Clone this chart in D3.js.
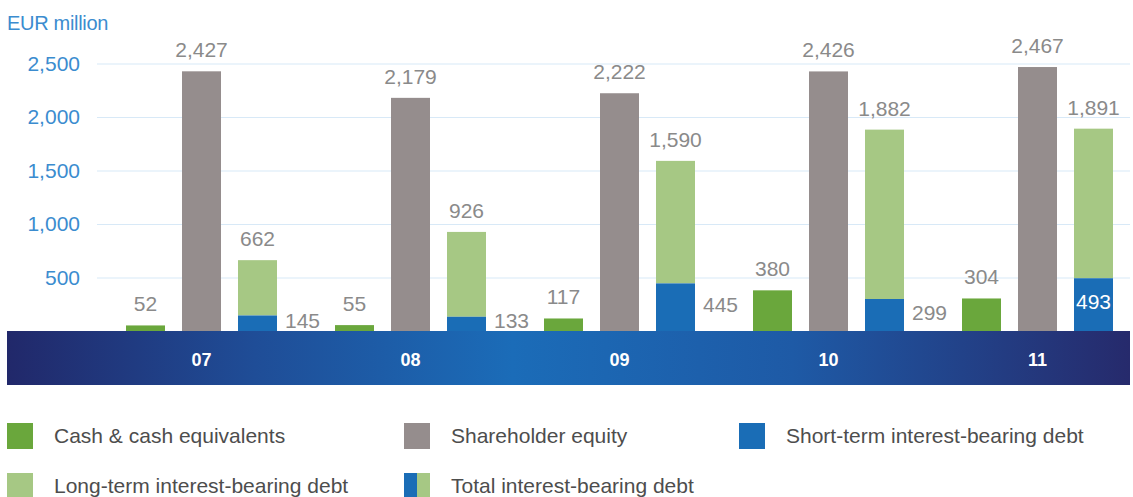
<!DOCTYPE html>
<html>
<head>
<meta charset="utf-8">
<script src="https://cdn.jsdelivr.net/npm/d3@7"></script>
<style>
  html, body { margin: 0; padding: 0; background: #fff; }
  svg { display: block; font-family: "Liberation Sans", Arial, sans-serif; }
</style>
</head>
<body>
<svg id="chart" width="1133" height="497"></svg>
<script>
// data, EUR million
const years = ["07", "08", "09", "10", "11"];
const cash = [52, 55, 117, 380, 304];
const equity = [2427, 2179, 2222, 2426, 2467];
const shortDebt = [145, 133, 445, 299, 493];
const longDebt = [517, 793, 1145, 1583, 1398];
const totalDebt = [662, 926, 1590, 1882, 1891];
const yTicks = [500, 1000, 1500, 2000, 2500];

const colors = {
  cash: "#6aa73c",
  equity: "#958d8d",
  short: "#1a6db6",
  long: "#a6c884",
  tick: "#3b8ccf",
  value: "#8a8a8a",
  legend: "#4d4d4d"
};

const svg = d3.select("#chart");

const plotLeft = 97, plotRight = 1130;
const baseY = 331, bandBottom = 385;

const x = d3.scaleBand().domain(years).range([97, 97 + 5 * 209]).padding(0);
const xInner = d3.scaleBand()
  .domain(["cash", "equity", "debt"])
  .range([29, 180])
  .paddingInner(17 / 56)
  .paddingOuter(0);
const bw = xInner.bandwidth();

const y = d3.scaleLinear().domain([0, 2500]).range([baseY, 63.5]);
const fmt = d3.format(",");

// gridlines + tick labels
const yAxis = svg.append("g")
  .attr("transform", `translate(${plotLeft},0)`)
  .call(d3.axisLeft(y)
    .tickValues(yTicks)
    .tickFormat(fmt)
    .tickSize(-(plotRight - plotLeft))
    .tickPadding(17));
yAxis.select(".domain").remove();
yAxis.selectAll(".tick line").attr("stroke", "#d8e9f7").attr("stroke-width", 1.2);
yAxis.selectAll(".tick text")
  .attr("fill", colors.tick)
  .style("font-size", "21px")
  .style("font-family", "'Liberation Sans', Arial, sans-serif");

svg.append("text")
  .attr("x", 7).attr("y", 30)
  .attr("fill", colors.tick)
  .style("font-size", "20px")
  .style("letter-spacing", "-0.3px")
  .text("EUR million");

// blue band under the bars
const grad = svg.append("defs").append("linearGradient")
  .attr("id", "band").attr("x1", "0%").attr("x2", "100%");
grad.append("stop").attr("offset", "0%").attr("stop-color", "#21286a");
grad.append("stop").attr("offset", "22%").attr("stop-color", "#1f4d97");
grad.append("stop").attr("offset", "45%").attr("stop-color", "#1b6cb8");
grad.append("stop").attr("offset", "70%").attr("stop-color", "#1e5aa6");
grad.append("stop").attr("offset", "100%").attr("stop-color", "#262a6c");

svg.append("rect")
  .attr("x", 7).attr("y", baseY)
  .attr("width", plotRight - 7).attr("height", bandBottom - baseY)
  .attr("fill", "url(#band)");

svg.append("g").selectAll("text")
  .data(years)
  .join("text")
  .attr("x", d => x(d) + xInner("equity") + bw / 2)
  .attr("y", (baseY + bandBottom) / 2 + 2)
  .attr("dy", "0.36em")
  .attr("text-anchor", "middle")
  .attr("fill", "#fff")
  .style("font-size", "18px")
  .style("font-weight", "bold")
  .text(d => d);

// bars
const groups = svg.append("g").selectAll("g")
  .data(years)
  .join("g")
  .attr("transform", d => `translate(${x(d)},0)`);

groups.append("rect")
  .attr("x", xInner("cash")).attr("width", bw)
  .attr("y", (d, i) => y(cash[i]))
  .attr("height", (d, i) => baseY - y(cash[i]))
  .attr("fill", colors.cash);

groups.append("rect")
  .attr("x", xInner("equity")).attr("width", bw)
  .attr("y", (d, i) => y(equity[i]))
  .attr("height", (d, i) => baseY - y(equity[i]))
  .attr("fill", colors.equity);

groups.append("rect")
  .attr("x", xInner("debt")).attr("width", bw)
  .attr("y", (d, i) => y(shortDebt[i] + longDebt[i]))
  .attr("height", (d, i) => y(shortDebt[i]) - y(shortDebt[i] + longDebt[i]))
  .attr("fill", colors.long);

groups.append("rect")
  .attr("x", xInner("debt")).attr("width", bw)
  .attr("y", (d, i) => y(shortDebt[i]))
  .attr("height", (d, i) => baseY - y(shortDebt[i]))
  .attr("fill", colors.short);

// value labels above bars
const topLabel = (key, vals) => groups.append("text")
  .attr("x", xInner(key) + bw / 2)
  .attr("y", (d, i) => y(vals[i]) - 14)
  .attr("text-anchor", "middle")
  .attr("fill", colors.value)
  .style("font-size", "21px")
  .text((d, i) => fmt(vals[i]));

topLabel("cash", cash);
topLabel("equity", equity);
topLabel("debt", totalDebt);

// short-term debt: right of the bar, or inside when there is no room
groups.append("text")
  .each(function (d, i) {
    const gx = x(d) + xInner("debt") + bw;
    const inside = gx + 8 + 36 > plotRight;
    d3.select(this)
      .attr("x", inside ? xInner("debt") + bw / 2 : xInner("debt") + bw + 8)
      .attr("text-anchor", inside ? "middle" : "start")
      .attr("fill", inside ? "#fff" : colors.value);
  })
  .attr("y", (d, i) => (y(shortDebt[i]) + baseY) / 2 - 3)
  .attr("dy", "0.36em")
  .style("font-size", "21px")
  .text((d, i) => fmt(shortDebt[i]));

// legend
const legendItems = [
  { label: "Cash & cash equivalents", fill: [colors.cash], x: 7, row: 0 },
  { label: "Shareholder equity", fill: [colors.equity], x: 404, row: 0 },
  { label: "Short-term interest-bearing debt", fill: [colors.short], x: 739, row: 0 },
  { label: "Long-term interest-bearing debt", fill: [colors.long], x: 7, row: 1 },
  { label: "Total interest-bearing debt", fill: [colors.short, colors.long], x: 404, row: 1 }
];
const rowY = [436, 486];
const sw = 26;

const leg = svg.append("g").selectAll("g")
  .data(legendItems)
  .join("g")
  .attr("transform", d => `translate(${d.x},${rowY[d.row] - sw / 2})`);

leg.each(function (d) {
  const g = d3.select(this);
  const w = sw / d.fill.length;
  d.fill.forEach((c, k) => {
    g.append("rect").attr("x", k * w).attr("y", 0)
      .attr("width", w).attr("height", sw).attr("fill", c);
  });
});

leg.append("text")
  .attr("x", 47)
  .attr("y", sw / 2)
  .attr("dy", "0.35em")
  .attr("fill", colors.legend)
  .style("font-size", "21px")
  .text(d => d.label);
</script>
</body>
</html>
